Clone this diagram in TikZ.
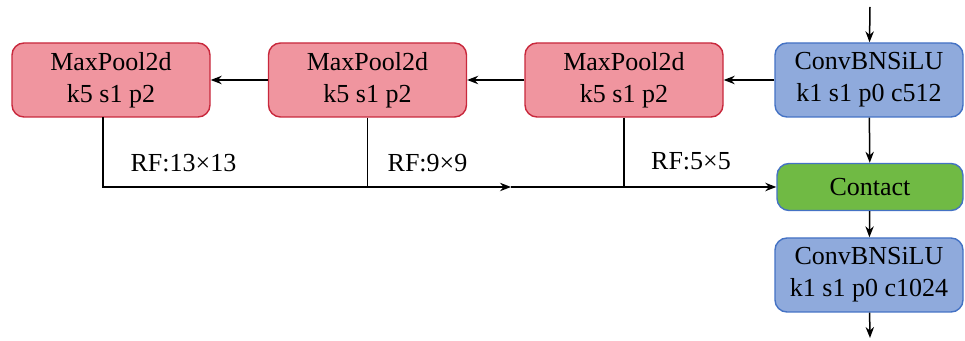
\documentclass[tikz,border=0pt]{standalone}
\usepackage{fontspec}
\setmainfont{Liberation Serif}
\newfontfamily\tnr{Liberation Serif}
\usetikzlibrary{arrows.meta}
\definecolor{poolfill}{HTML}{F0959F}
\definecolor{poolline}{HTML}{C8283C}
\definecolor{convfill}{HTML}{8FAADC}
\definecolor{convline}{HTML}{4472C4}
\definecolor{catfill}{HTML}{70BA44}
\begin{document}
\begin{tikzpicture}[x=0.5pt, y=-0.5pt,
    box/.style={draw, line width=0.7pt, rounded corners=6pt, align=center,
        font=\tnr\fontsize{13}{16}\selectfont, inner sep=0pt},
    pool/.style={box, fill=poolfill, draw=poolline, minimum width=99pt, minimum height=37pt},
    conv/.style={box, fill=convfill, draw=convline, minimum width=94pt, minimum height=37pt},
    cat/.style={box, fill=catfill, draw=convline, minimum width=93pt, minimum height=23.5pt},
    arr/.style={-{Stealth[length=5.5pt, width=4.2pt]}, line width=0.75pt},
    ln/.style={line width=0.75pt},
    rf/.style={font=\tnr\fontsize{13}{16}\selectfont, inner sep=0pt}]
    \useasboundingbox (0,0) rectangle (965,341);

    \node[pool] at (111,80)      (mp1)  {MaxPool2d\\k5 s1 p2};
    \node[pool] at (367.5,80)    (mp2)  {MaxPool2d\\k5 s1 p2};
    \node[pool] at (624,80)      (mp3)  {MaxPool2d\\k5 s1 p2};
    \node[conv] at (869,80)      (conv1)  {ConvBNSiLU\\k1 s1 p0 c512};
    \node[cat] at (870,187)      (contact)  {Contact};
    \node[conv] at (869,275)     (conv2)  {ConvBNSiLU\\k1 s1 p0 c1024};

    \node[rf] at (183.5,163)     (rf13)  {RF:13×13};
    \node[rf] at (427.5,163)     (rf9)  {RF:9×9};
    \node[rf] at (691,161)       (rf5)  {RF:5×5};

    \coordinate (in)  at (870,7);
    \coordinate (out) at (870,338);
    \coordinate (b1)  at (103,117);
    \coordinate (m)   at (511,187);

    \draw[arr] (in) -- (conv1);
    \draw[arr] (conv1) -- (contact);
    \draw[arr] (contact) -- (conv2);
    \draw[arr] (conv2) -- (out);
    \draw[arr] (conv1) -- (mp3);
    \draw[arr] (mp3) -- (mp2);
    \draw[arr] (mp2) -- (mp1);
    \draw[arr] (b1) |- (m);
    \draw[arr] (m) -- (contact);
    \draw[ln] (mp2.south) -- (mp2.south |- m);
    \draw[ln] (mp3.south) -- (mp3.south |- m);
\end{tikzpicture}
\end{document}
